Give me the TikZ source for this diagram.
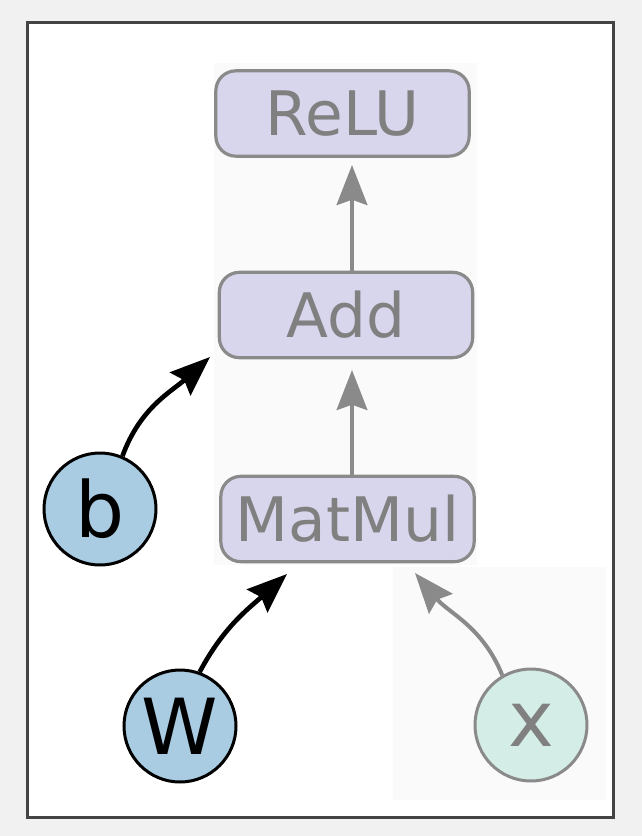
\documentclass[tikz,border=0pt]{standalone}
\usepackage{xcolor}
\usepackage{fontspec}
\setmainfont{DejaVu Sans}
\usepackage{tikz}
\usetikzlibrary{shapes.geometric, arrows.meta, positioning}

\definecolor{bggray}{HTML}{F1F1F1}
\definecolor{framegray}{HTML}{444444}
\definecolor{pastebg}{HTML}{FAFAFA}
\definecolor{opfill}{HTML}{D8D6EC}
\definecolor{opline}{HTML}{8A8A8A}
\definecolor{optext}{HTML}{808080}
\definecolor{paramfill}{HTML}{A9CCE3}
\definecolor{inputfill}{HTML}{D4EDE6}

\tikzset{
  op/.style={draw=opline, fill=opfill, line width=2.4pt, rounded corners=15pt,
    minimum width=190pt, minimum height=64pt, inner sep=0pt, text=optext,
    font=\fontsize{46}{52}\selectfont},
  param/.style={circle, draw=black, fill=paramfill, line width=2.25pt,
    minimum size=84pt, inner sep=0pt, font=\fontsize{58}{64}\selectfont},
  input/.style={param, draw=opline, fill=inputfill, text=optext},
  flow/.style={line width=3pt, draw=opline, -{Stealth[length=30pt, width=23pt, inset=4pt]}},
  weight/.style={flow, draw=black, line width=3.5pt},
}

\begin{document}
\begin{tikzpicture}[x=0.75pt, y=0.75pt]
% Page and frame
\useasboundingbox (0,0) rectangle (642,-836);
\fill[bggray] (0,0) rectangle (642,-836);
\fill[white] (27,-22) rectangle (613,-817);
\fill[pastebg] (214,-63) rectangle (477,-565);
\fill[pastebg] (393,-567) rectangle (606,-800);
\draw[framegray, line width=2.25pt] (27,-22) rectangle (613,-817);

% Ops
\node[op] (relu) at (342.5,-113.5) {ReLU};
\node[op] (add) at (346,-315) {Add};
\node[op] (matmul) at (347.5,-519) {MatMul};

% Inputs
\node[param] (b) at (100,-509) {b};
\node[param] (w) at (180,-726) {W};
\node[input] (x) at (531,-725) {x};

% Arrow tips
\coordinate (reluIn) at (352,-165);
\coordinate (addIn) at (352,-370);
\coordinate (addTip) at (210,-357);
\coordinate (matTipW) at (287,-574);
\coordinate (matTipX) at (415,-573);

% Edges
\draw[flow] (add.north -| reluIn) -- (reluIn);
\draw[flow] (matmul.north -| addIn) -- (addIn);
\draw[weight] (b.67) to[out=70, in=222] (addTip);
\draw[weight] (w.70) to[out=62, in=222] (matTipW);
\draw[flow] (x.120) to[out=112, in=-50] (matTipX);
\end{tikzpicture}
\end{document}
